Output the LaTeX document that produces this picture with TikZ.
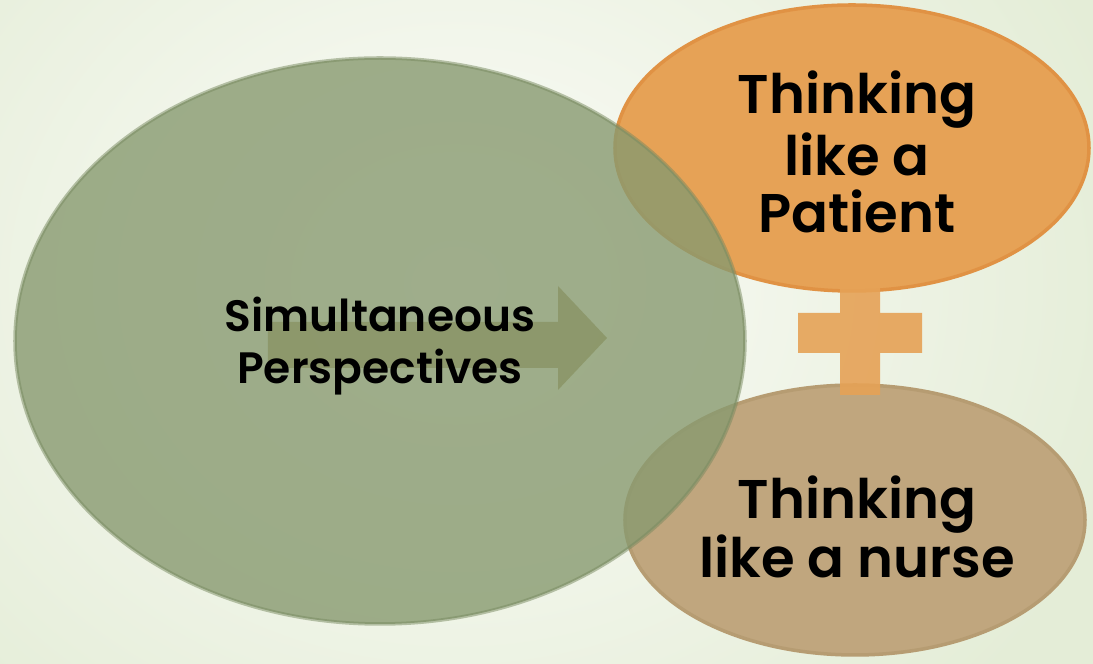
\documentclass[tikz,border=0pt]{standalone}
\usepackage{fontspec}
\setmainfont{Poppins}[BoldFont={* SemiBold}]
\usetikzlibrary{shapes.geometric}
\definecolor{bgpale}{RGB}{252,252,249}
\definecolor{bggreen}{RGB}{228,237,215}
\definecolor{sage}{RGB}{136,154,112}
\definecolor{sageedge}{RGB}{120,138,96}
\definecolor{olivearrow}{RGB}{128,136,84}
\definecolor{apricot}{RGB}{230,162,86}
\definecolor{apricotedge}{RGB}{224,146,68}
\definecolor{tan}{RGB}{192,166,126}
\definecolor{tanedge}{RGB}{182,156,114}
\begin{document}
\begin{tikzpicture}[
  blob/.style={ellipse,inner sep=0pt,outer sep=0pt,line width=1pt},
  label/.style 2 args={align=center,font=\bfseries\fontsize{#1}{#2}\selectfont}]
\useasboundingbox (0,0) rectangle (10.93,6.64);
\shade[outer color=bggreen,inner color=bgpale] (-2.5,-2.2) rectangle (11.6,9.8);
% the two smaller ellipses
\node[blob,fill=apricot,draw=apricotedge,minimum width=4.74cm,minimum height=2.86cm] (patient) at (8.52,5.16) {};
\node[blob,fill=tan,draw=tanedge,minimum width=4.60cm,minimum height=2.70cm] (nurse) at (8.55,1.44) {};
% plus sign
\fill[apricot,opacity=0.9] (8.40,3.91) -- (8.80,3.91) -- (8.80,3.51) -- (9.22,3.51) -- (9.22,3.11)
  -- (8.80,3.11) -- (8.80,2.69) -- (8.40,2.69) -- (8.40,3.11) -- (7.98,3.11) -- (7.98,3.51)
  -- (8.40,3.51) -- cycle;
% big ellipse
\node[blob,fill=sage,draw=sageedge,fill opacity=0.8,draw opacity=0.5,minimum width=7.30cm,minimum height=5.66cm] (persp) at (3.80,3.23) {};
% arrow
\fill[olivearrow,opacity=0.55] (2.68,3.42) -- (5.58,3.42) -- (5.58,3.78) -- (6.07,3.26) -- (5.58,2.74)
  -- (5.58,2.96) -- (2.68,2.96) -- cycle;
\node[label={12.5}{14.6}] (persptext) at (3.80,3.18) {Simultaneous\\Perspectives};
\node[label={15.5}{16.3}] (patienttext) at (8.57,5.12) {Thinking\\like a\\Patient};
\node[label={15.5}{17}] (nursetext) at (8.57,1.37) {Thinking\\like a nurse};
\end{tikzpicture}
\end{document}
